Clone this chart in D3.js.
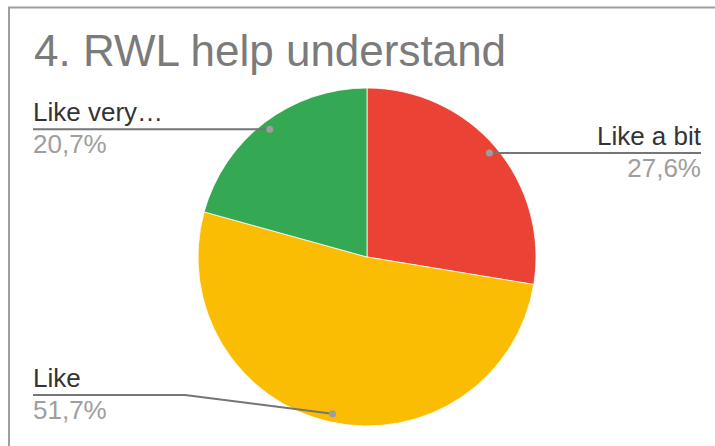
<!DOCTYPE html>
<html>
<head>
<meta charset="utf-8">
<script src="https://cdn.jsdelivr.net/npm/d3@7"></script>
<style>
  html, body { margin: 0; padding: 0; background: #fff; }
  svg { display: block; font-family: "Liberation Sans", Arial, sans-serif; }
</style>
</head>
<body>
<svg id="chart" width="715" height="446"></svg>
<script>
// Survey answers and their shares (percent)
const categories = ["Like a bit", "Like", "Like very…"];
const shares = [27.6, 51.7, 20.7];
const percentLabels = ["27,6%", "51,7%", "20,7%"];
const sliceColors = ["#ea4335", "#fbbc04", "#34a853"];
const titleText = "4. RWL help understand";

const W = 715, H = 446;
const svg = d3.select("#chart");

// card frame
svg.append("rect")
  .attr("x", 9).attr("y", 7.5).attr("width", W + 10).attr("height", H + 10)
  .attr("fill", "#fff").attr("stroke", "#9e9e9e").attr("stroke-width", 2);

svg.append("text")
  .attr("x", 34).attr("y", 66)
  .attr("font-size", 44).attr("fill", "#7b7b7b")
  .text(titleText);

const cx = 367, cy = 257, R = 169;
const g = svg.append("g").attr("transform", `translate(${cx},${cy})`);

const pie = d3.pie().sort(null).value(d => d.value);
const data = categories.map((c, i) => ({ name: c, value: shares[i], pct: percentLabels[i], color: sliceColors[i] }));
const arcs = pie(data);
const arc = d3.arc().innerRadius(0).outerRadius(R);

g.selectAll("path.slice").data(arcs).join("path")
  .attr("class", "slice")
  .attr("d", arc)
  .attr("fill", d => d.data.color)
  .attr("stroke", "#fff").attr("stroke-width", 0.8);

// leader anchor points inside each slice
const anchorArc = d3.arc().innerRadius(R * 0.95).outerRadius(R * 0.95);
const anchor = d => {
  const [x, y] = anchorArc.centroid(d);
  return [x + cx, y + cy];
};

// label placement per slice: side and text baseline
const labelLayout = [
  { side: "right", x: 701, lineY: 153 },
  { side: "left", x: 33, lineY: 395, elbowX: 185 },
  { side: "left", x: 33, lineY: 129 }
];

const labels = svg.append("g");
arcs.forEach((d, i) => {
  const L = labelLayout[i];
  const [ax, ay] = anchor(d);
  let pts;
  if (L.elbowX !== undefined) {
    pts = [[ax, ay], [L.elbowX, L.lineY], [L.x, L.lineY]];
  } else {
    pts = [[ax, ay], [L.x, ay]];
  }
  const lineY = L.elbowX !== undefined ? L.lineY : ay;
  labels.append("path")
    .attr("d", d3.line()(pts))
    .attr("fill", "none").attr("stroke", "#757575").attr("stroke-width", 2);
  labels.append("circle")
    .attr("cx", ax).attr("cy", ay).attr("r", 3.5)
    .attr("fill", "#9e9e9e");
  const anchorText = L.side === "right" ? "end" : "start";
  labels.append("text")
    .attr("x", L.x).attr("y", lineY - 8)
    .attr("text-anchor", anchorText)
    .attr("font-size", 26).attr("fill", "#333")
    .text(d.data.name);
  labels.append("text")
    .attr("x", L.x).attr("y", lineY + 24)
    .attr("text-anchor", anchorText)
    .attr("font-size", 26).attr("fill", "#9e9e9e")
    .text(d.data.pct);
});
</script>
</body>
</html>
